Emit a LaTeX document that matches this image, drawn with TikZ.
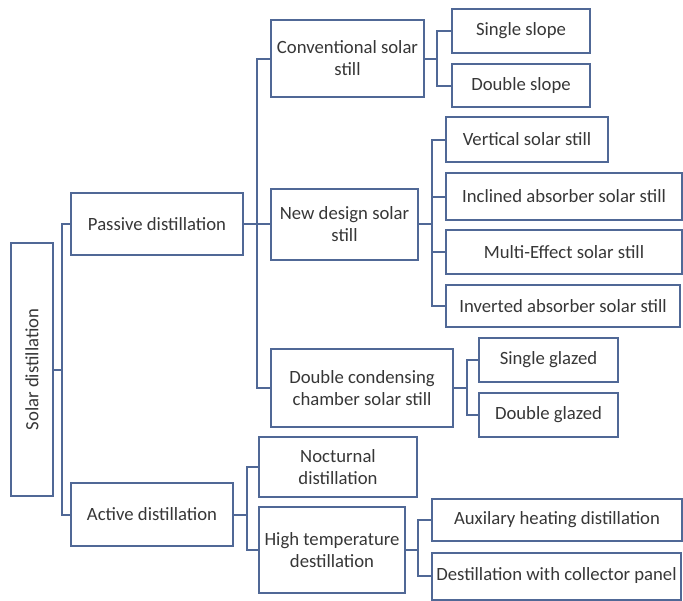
\documentclass[tikz,border=0pt]{standalone}
\usepackage{fontspec}
\setmainfont{Carlito}
\definecolor{edge}{RGB}{80,104,150}
\definecolor{txt}{RGB}{55,55,55}
\begin{document}
\begin{tikzpicture}[x=1pt,y=-1pt,
  box/.style={draw=edge, line width=2pt, fill=white, inner sep=0pt, align=center,
    text=txt, font=\fontsize{18.7}{22}\selectfont},
  lbl/.style={inner sep=0pt, text=txt, font=\fontsize{18.7}{22}\selectfont},
  conn/.style={draw=edge, line width=2pt}]
\useasboundingbox (0,0) rectangle (683,600);
% root
\node[box, minimum width=42pt, minimum height=253pt] (root) at (32,369.5) {};
\node[lbl, rotate=90] (rootlbl) at (root.center) {Solar distillation};
% level 1
\node[box, minimum width=172pt, minimum height=62pt] (passive) at (157,224) {Passive distillation};
\node[box, minimum width=162pt, minimum height=63pt] (active) at (152,514.5) {Active distillation};
% level 2
\node[box, minimum width=153pt, minimum height=77pt] (conv) at (347.5,58.5) {Conventional solar\\still};
\node[box, minimum width=147pt, minimum height=71pt] (newd) at (344.5,224) {New design solar\\still};
\node[box, minimum width=182pt, minimum height=78pt] (dcc) at (362,388) {Double condensing\\chamber solar still};
\node[box, minimum width=158pt, minimum height=60pt] (noct) at (338,467) {Nocturnal\\distillation};
\node[box, minimum width=146pt, minimum height=86pt] (high) at (332,550) {High temperature\\destillation};
% level 3
\node[box, minimum width=138pt, minimum height=44pt] (ss) at (521,31) {Single slope};
\node[box, minimum width=138pt, minimum height=43pt] (ds) at (521,85.5) {Double slope};
\node[box, minimum width=162pt, minimum height=45pt] (vert) at (527,139.5) {Vertical solar still};
\node[box, minimum width=236pt, minimum height=47pt] (incl) at (564,196.5) {Inclined absorber solar still};
\node[box, minimum width=236pt, minimum height=44pt] (multi) at (564,252) {Multi-Effect solar still};
\node[box, minimum width=234pt, minimum height=42pt] (inv) at (563,306) {Inverted absorber solar still};
\node[box, minimum width=139pt, minimum height=44pt] (sg) at (548.5,360) {Single glazed};
\node[box, minimum width=139pt, minimum height=44pt] (dg) at (548.5,415) {Double glazed};
\node[box, minimum width=250pt, minimum height=42pt] (aux) at (557,520) {Auxilary heating distillation};
\node[box, minimum width=249pt, minimum height=47pt] (dwc) at (556.5,576) {Destillation with collector panel};
% spines
\coordinate (s1) at (62,0);
\coordinate (s2) at (257,0);
\coordinate (s3) at (437,0);
\coordinate (s4) at (432,0);
\coordinate (s5) at (467,0);
\coordinate (s6) at (247,0);
\coordinate (s7) at (418,0);
% root
\draw[conn] (root.east) -- (s1 |- root.east);
\draw[conn] (passive.west) -- (s1 |- passive.west) -- (s1 |- active.west) -- (active.west);
% passive
\draw[conn] (passive.east) -- (newd.west);
\draw[conn] (conv.west) -- (s2 |- conv.west) -- (s2 |- dcc.west) -- (dcc.west);
% conventional
\draw[conn] (conv.east) -- (s3 |- conv.east);
\draw[conn] (ss.west) -- (s3 |- ss.west) -- (s3 |- ds.west) -- (ds.west);
% new design
\draw[conn] (newd.east) -- (s4 |- newd.east);
\draw[conn] (vert.west) -- (s4 |- vert.west) -- (s4 |- inv.west) -- (inv.west);
\draw[conn] (incl.west) -- (s4 |- incl.west);
\draw[conn] (multi.west) -- (s4 |- multi.west);
% double condensing
\draw[conn] (dcc.east) -- (s5 |- dcc.east);
\draw[conn] (sg.west) -- (s5 |- sg.west) -- (s5 |- dg.west) -- (dg.west);
% active
\draw[conn] (active.east) -- (s6 |- active.east);
\draw[conn] (noct.west) -- (s6 |- noct.west) -- (s6 |- high.west) -- (high.west);
% high temperature
\draw[conn] (high.east) -- (s7 |- high.east);
\draw[conn] (aux.west) -- (s7 |- aux.west) -- (s7 |- dwc.west) -- (dwc.west);
\end{tikzpicture}
\end{document}
